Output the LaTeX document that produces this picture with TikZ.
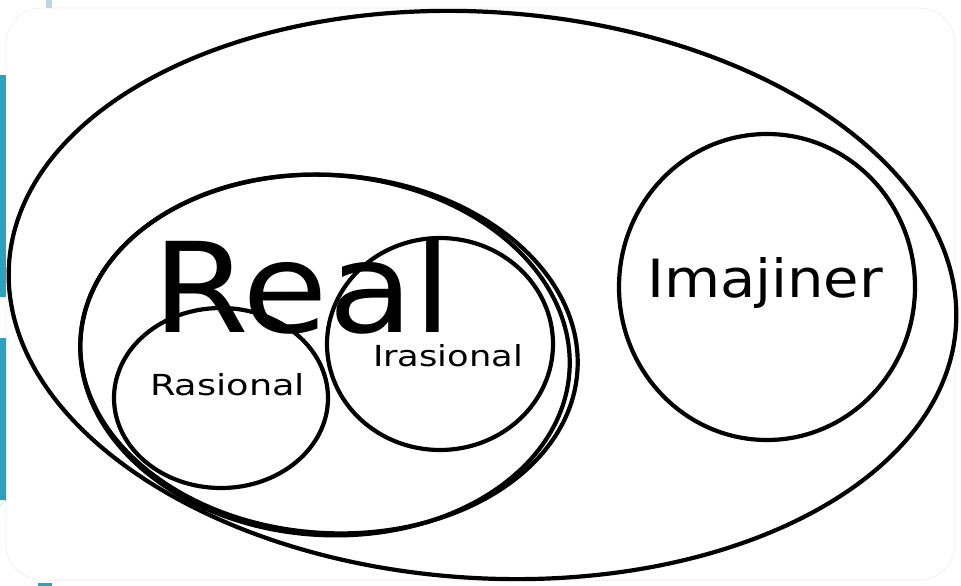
\documentclass[tikz,border=0pt]{standalone}
\usepackage{fontspec}
\usepackage{graphicx}
\setmainfont{DejaVu Sans}
\usetikzlibrary{shapes.geometric}
\definecolor{slideteal}{HTML}{2AA2BF}
\definecolor{slidelight}{HTML}{B9D6E6}
\begin{document}
\begin{tikzpicture}[x=1pt,y=-1pt,
  setline/.style={draw=black, line width=4.2pt, ellipse, inner sep=0pt, outer sep=0pt},
  lab/.style={anchor=base west, inner sep=0pt, outer sep=0pt, text=black}]
  % canvas
  \fill[white] (0,0) rectangle (961,586);
  \useasboundingbox (0,0) rectangle (961,586);
  % faint slide frame
  \draw[black!7, line width=0.6pt, rounded corners=36pt] (6,8) rectangle (955,580);
  % slide accents
  \fill[slideteal] (0,75) rectangle (6,297);
  \fill[slideteal] (0,338) rectangle (6,500) -- (0,505) -- cycle;
  \fill[slidelight] (46,0) rectangle (52,8);
  \fill[slideteal] (38,583) rectangle (52,586);
  % sets
  \node[setline, minimum width=949pt, minimum height=566pt, rotate=-3.8] (outer) at (482.5,295) {};
  \node[setline, minimum width=490pt, minimum height=360pt, rotate=-4] (real) at (325,355) {};
  \node[setline, minimum width=498pt, minimum height=358pt, rotate=-4] (realB) at (329,354) {};
  \node[setline, minimum width=214pt, minimum height=180pt] (ras) at (221,398) {};
  \node[setline, minimum width=226pt, minimum height=212pt] (iras) at (440,344) {};
  \node[setline, minimum width=296pt, minimum height=306pt] (imaj) at (767,287) {};
  % labels
  \node[lab] (treal) at (152,332) {\resizebox{300pt}{95pt}{Real}};
  \node[lab] (tiras) at (373,366) {\resizebox{150pt}{22pt}{Irasional}};
  \node[lab] (tras) at (150,395) {\resizebox{155pt}{22pt}{Rasional}};
  \node[lab] (timaj) at (647,297) {\resizebox{236pt}{40pt}{Imajiner}};
\end{tikzpicture}
\end{document}
